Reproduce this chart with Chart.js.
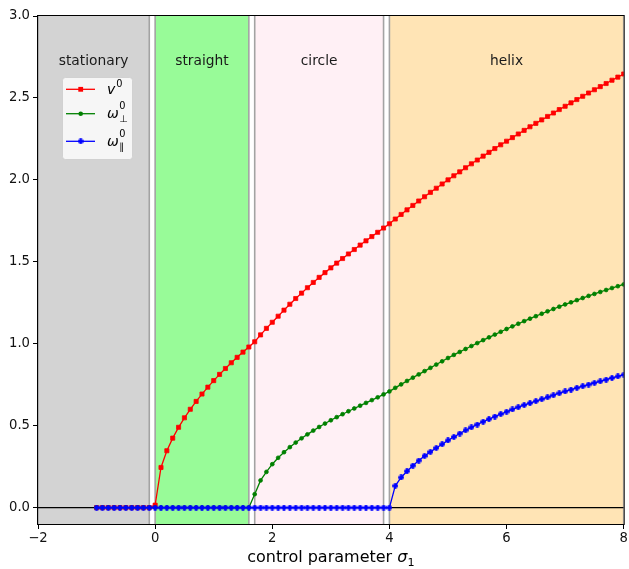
<!DOCTYPE html>
<html>
<head>
<meta charset="utf-8">
<script src="https://cdn.jsdelivr.net/npm/chart.js@4.4.1/dist/chart.umd.min.js"></script>
<style>
  html, body { margin: 0; padding: 0; background: #ffffff; }
  canvas { display: block; }
</style>
</head>
<body>
<canvas id="chart" width="629" height="569"></canvas>
<script>
// control parameter sigma_1 (sampling grid of the sweep)
const sigma = [
  -1.0, -0.9, -0.8, -0.7, -0.6, -0.5, -0.4, -0.3, -0.2, -0.1,
   0.0,  0.1,  0.2,  0.3,  0.4,  0.5,  0.6,  0.7,  0.8,  0.9,
   1.0,  1.1,  1.2,  1.3,  1.4,  1.5,  1.6,  1.7,  1.8,  1.9,
   2.0,  2.1,  2.2,  2.3,  2.4,  2.5,  2.6,  2.7,  2.8,  2.9,
   3.0,  3.1,  3.2,  3.3,  3.4,  3.5,  3.6,  3.7,  3.8,  3.9,
   4.0,  4.1,  4.2,  4.3,  4.4,  4.5,  4.6,  4.7,  4.8,  4.9,
   5.0,  5.1,  5.2,  5.3,  5.4,  5.5,  5.6,  5.7,  5.8,  5.9,
   6.0,  6.1,  6.2,  6.3,  6.4,  6.5,  6.6,  6.7,  6.8,  6.9,
   7.0,  7.1,  7.2,  7.3,  7.4,  7.5,  7.6,  7.7,  7.8,  7.9,
   8.0
];

// translational speed v^0
const v0 = [
  0, 0, 0, 0, 0, 0, 0, 0, 0, 0,
  0.015, 0.245, 0.347, 0.424, 0.490, 0.548, 0.600, 0.648, 0.693, 0.735,
  0.775, 0.813, 0.849, 0.884, 0.917, 0.949, 0.980, 1.012, 1.054, 1.094,
  1.131, 1.168, 1.205, 1.241, 1.276, 1.309, 1.342, 1.374, 1.405, 1.434,
  1.463, 1.492, 1.520, 1.548, 1.575, 1.602, 1.628, 1.654, 1.680, 1.706,
  1.732, 1.761, 1.789, 1.817, 1.844, 1.871, 1.897, 1.924, 1.949, 1.975,
  2.000, 2.025, 2.049, 2.074, 2.098, 2.121, 2.145, 2.168, 2.191, 2.214,
  2.236, 2.258, 2.280, 2.302, 2.324, 2.345, 2.366, 2.387, 2.408, 2.429,
  2.449, 2.470, 2.490, 2.510, 2.530, 2.550, 2.569, 2.588, 2.608, 2.627,
  2.646
];

// perpendicular rotation rate omega_perp^0
const omegaPerp = [
  0, 0, 0, 0, 0, 0, 0, 0, 0, 0,
  0, 0, 0, 0, 0, 0, 0, 0, 0, 0,
  0, 0, 0, 0, 0, 0, 0, 0.082, 0.166, 0.218,
  0.265, 0.304, 0.338, 0.369, 0.397, 0.423, 0.447, 0.470, 0.492, 0.513,
  0.533, 0.552, 0.570, 0.588, 0.605, 0.622, 0.639, 0.656, 0.673, 0.691,
  0.709, 0.731, 0.752, 0.773, 0.793, 0.813, 0.833, 0.853, 0.873, 0.893,
  0.913, 0.932, 0.950, 0.968, 0.986, 1.004, 1.022, 1.039, 1.056, 1.073,
  1.090, 1.106, 1.122, 1.138, 1.153, 1.168, 1.183, 1.198, 1.212, 1.226,
  1.240, 1.253, 1.266, 1.279, 1.292, 1.304, 1.316, 1.328, 1.340, 1.351,
  1.362
];

// parallel rotation rate omega_par^0
const omegaPar = [
  0, 0, 0, 0, 0, 0, 0, 0, 0, 0,
  0, 0, 0, 0, 0, 0, 0, 0, 0, 0,
  0, 0, 0, 0, 0, 0, 0, 0, 0, 0,
  0, 0, 0, 0, 0, 0, 0, 0, 0, 0,
  0, 0, 0, 0, 0, 0, 0, 0, 0, 0,
  0, 0.133, 0.184, 0.222, 0.256, 0.287, 0.315, 0.340, 0.364, 0.387,
  0.410, 0.431, 0.452, 0.472, 0.490, 0.507, 0.524, 0.540, 0.556, 0.571,
  0.585, 0.599, 0.613, 0.626, 0.638, 0.650, 0.662, 0.674, 0.686, 0.698,
  0.709, 0.720, 0.731, 0.741, 0.751, 0.761, 0.771, 0.781, 0.791, 0.801,
  0.811
];

// axis ticks
const xTicks = [-2, 0, 2, 4, 6, 8];
const yTicks = [0.0, 0.5, 1.0, 1.5, 2.0, 2.5, 3.0];

// regimes of motion along sigma_1
const regionNames = ['stationary', 'straight', 'circle', 'helix'];
const regionFrom  = [-2, 0, 1.7, 4];
const regionTo    = [-0.1, 1.6, 3.9, 8];
const regionLabelLevel = 2.7;

// ---------- styling ----------
const FONT = '"DejaVu Sans", sans-serif';
const regionFill = ['#d3d3d3', '#98fb98', '#fff0f5', '#ffe4b5'];
const regionEdge = '#a3a3a3';
const RED = '#ff0000', GREEN = '#008000', BLUE = '#0000ff';

// filled plus marker used for omega_par
function plusMarker(color, size, half) {
  const c = document.createElement('canvas');
  c.width = size; c.height = size;
  const g = c.getContext('2d');
  const m = size / 2;
  g.fillStyle = color;
  g.fillRect(0.2, m - half, size - 0.4, 2 * half);
  g.fillRect(m - half, 0.2, 2 * half, size - 0.4);
  return c;
}
const bluePlus = plusMarker(BLUE, 6, 1.4);

const toPoints = ys => sigma.map((s, i) => ({ x: s, y: ys[i] }));

const backdrop = {
  id: 'backdrop',
  beforeDatasetsDraw(chart) {
    const { ctx, chartArea: a, scales: { x, y } } = chart;
    ctx.save();
    ctx.beginPath();
    ctx.rect(a.left, a.top, a.right - a.left, a.bottom - a.top);
    ctx.clip();
    regionFrom.forEach((from, i) => {
      const x0 = x.getPixelForValue(from);
      const x1 = x.getPixelForValue(regionTo[i]);
      ctx.fillStyle = regionFill[i];
      ctx.fillRect(x0, a.top, x1 - x0, a.bottom - a.top);
      ctx.strokeStyle = regionEdge;
      ctx.lineWidth = 1.6;
      ctx.beginPath();
      ctx.moveTo(x0, a.top); ctx.lineTo(x0, a.bottom);
      ctx.moveTo(x1, a.top); ctx.lineTo(x1, a.bottom);
      ctx.stroke();
    });
    // zero line
    const y0 = y.getPixelForValue(0);
    ctx.strokeStyle = '#000000';
    ctx.lineWidth = 1.2;
    ctx.beginPath();
    ctx.moveTo(a.left, y0); ctx.lineTo(a.right, y0);
    ctx.stroke();
    // regime names
    ctx.fillStyle = '#1a1a1a';
    ctx.font = '13.8px ' + FONT;
    ctx.textAlign = 'center';
    ctx.textBaseline = 'alphabetic';
    const ly = y.getPixelForValue(regionLabelLevel);
    regionNames.forEach((name, i) => {
      const cx = x.getPixelForValue((regionFrom[i] + regionTo[i]) / 2);
      ctx.fillText(name, cx, ly);
    });
    ctx.restore();
  },
  afterDraw(chart) {
    const { ctx, chartArea: a } = chart;
    ctx.save();
    // axes frame
    ctx.strokeStyle = '#000000';
    ctx.lineWidth = 1;
    ctx.strokeRect(a.left - 0.5, a.top - 0.5, a.right - a.left + 1, a.bottom - a.top + 1);

    // legend
    const bx = a.left + 24, by = a.top + 61, bw = 70, bh = 82;
    ctx.beginPath();
    ctx.roundRect(bx + 0.5, by + 0.5, bw, bh, 3);
    ctx.fillStyle = 'rgba(255,255,255,0.8)';
    ctx.fill();
    ctx.strokeStyle = 'rgba(204,204,204,0.8)';
    ctx.lineWidth = 1;
    ctx.stroke();

    const rows = [by + 12.3, by + 36.7, by + 64.3];
    const colors = [RED, GREEN, BLUE];
    const mx = bx + 18.7;
    rows.forEach((ry, i) => {
      ctx.strokeStyle = colors[i];
      ctx.lineWidth = 1.3;
      ctx.beginPath();
      ctx.moveTo(bx + 4, ry); ctx.lineTo(bx + 33, ry);
      ctx.stroke();
      ctx.fillStyle = colors[i];
      if (i === 0) {
        ctx.fillRect(mx - 2.4, ry - 2.4, 4.8, 4.8);
      } else if (i === 1) {
        ctx.beginPath(); ctx.arc(mx, ry, 2.3, 0, Math.PI * 2); ctx.fill();
      } else {
        ctx.drawImage(bluePlus, mx - 3, ry - 3);
      }
    });

    const tx = bx + 45;
    ctx.fillStyle = '#000000';
    ctx.textAlign = 'left';
    ctx.textBaseline = 'alphabetic';
    // v^0
    ctx.font = 'italic 14px ' + FONT;
    ctx.fillText('v', tx, rows[0] + 4.5);
    const w = ctx.measureText('v').width;
    ctx.font = '9.8px ' + FONT;
    ctx.fillText('0', tx + w + 1, rows[0] - 2);
    // omega_perp^0 and omega_par^0
    [['\u22A5', rows[1]], ['\u2225', rows[2]]].forEach(([sub, ry]) => {
      ctx.font = 'italic 14px ' + FONT;
      ctx.fillText('\u03C9', tx, ry + 4.5);
      const ww = ctx.measureText('\u03C9').width;
      ctx.font = '9.8px ' + FONT;
      ctx.fillText('0', tx + ww + 0.5, ry - 4.5);
      ctx.fillText(sub, tx + ww + 0.5, ry + 8.5);
    });

    // x-axis title: control parameter sigma_1
    const cx = (a.left + a.right) / 2;
    const base = 562;
    const t1 = 'control parameter ';
    ctx.font = '16px ' + FONT;
    const w1 = ctx.measureText(t1).width;
    ctx.font = 'italic 16px ' + FONT;
    const w2 = ctx.measureText('\u03C3').width;
    ctx.font = '11.2px ' + FONT;
    const w3 = ctx.measureText('1').width;
    const sx = cx - (w1 + w2 + w3) / 2;
    ctx.font = '16px ' + FONT;
    ctx.fillText(t1, sx, base);
    ctx.font = 'italic 16px ' + FONT;
    ctx.fillText('\u03C3', sx + w1, base);
    ctx.font = '11.2px ' + FONT;
    ctx.fillText('1', sx + w1 + w2, base + 3.5);
    ctx.restore();
  }
};

new Chart(document.getElementById('chart'), {
  type: 'line',
  data: {
    datasets: [
      {
        label: 'v0', data: toPoints(v0), order: 3,
        borderColor: RED, backgroundColor: RED, borderWidth: 1.3,
        pointStyle: 'rect', pointRadius: 2.9, pointBorderWidth: 0.8,
        pointBorderColor: RED, pointBackgroundColor: RED, tension: 0
      },
      {
        label: 'omega_perp0', data: toPoints(omegaPerp), order: 2,
        borderColor: GREEN, backgroundColor: GREEN, borderWidth: 1.3,
        pointStyle: 'circle', pointRadius: 1.9, pointBorderWidth: 0.8,
        pointBorderColor: GREEN, pointBackgroundColor: GREEN, tension: 0
      },
      {
        label: 'omega_par0', data: toPoints(omegaPar), order: 1,
        borderColor: BLUE, backgroundColor: BLUE, borderWidth: 1.3,
        pointStyle: bluePlus, pointRadius: 3, tension: 0
      }
    ]
  },
  options: {
    responsive: false,
    animation: false,
    devicePixelRatio: 1,
    events: [],
    layout: { padding: { top: 16, right: 4, bottom: 0, left: 0 } },
    plugins: { legend: { display: false }, tooltip: { enabled: false } },
    scales: {
      x: {
        type: 'linear', min: -2, max: 8,
        border: { display: false },
        grid: { display: true, drawOnChartArea: false, drawTicks: true, tickLength: 5, color: '#000000', lineWidth: 1 },
        ticks: {
          color: '#111111', font: { family: FONT, size: 13.2 }, padding: 2, maxRotation: 0,
          callback: v => (v < 0 ? '\u2212' + Math.abs(v) : String(v))
        },
        afterBuildTicks: s => { s.ticks = xTicks.map(v => ({ value: v })); },
        afterFit: s => { s.height = 45; s.paddingLeft = 0; s.paddingRight = 0; }
      },
      y: {
        type: 'linear', min: -0.1, max: 3.0,
        border: { display: false },
        grid: { display: true, drawOnChartArea: false, drawTicks: true, tickLength: 5, color: '#000000', lineWidth: 1 },
        ticks: {
          color: '#111111', font: { family: FONT, size: 13.2 }, padding: 3,
          callback: v => v.toFixed(1)
        },
        afterBuildTicks: s => { s.ticks = yTicks.map(v => ({ value: v })); },
        afterFit: s => { s.width = 38; s.paddingTop = 0; s.paddingBottom = 0; }
      }
    }
  },
  plugins: [backdrop]
});
</script>
</body>
</html>
